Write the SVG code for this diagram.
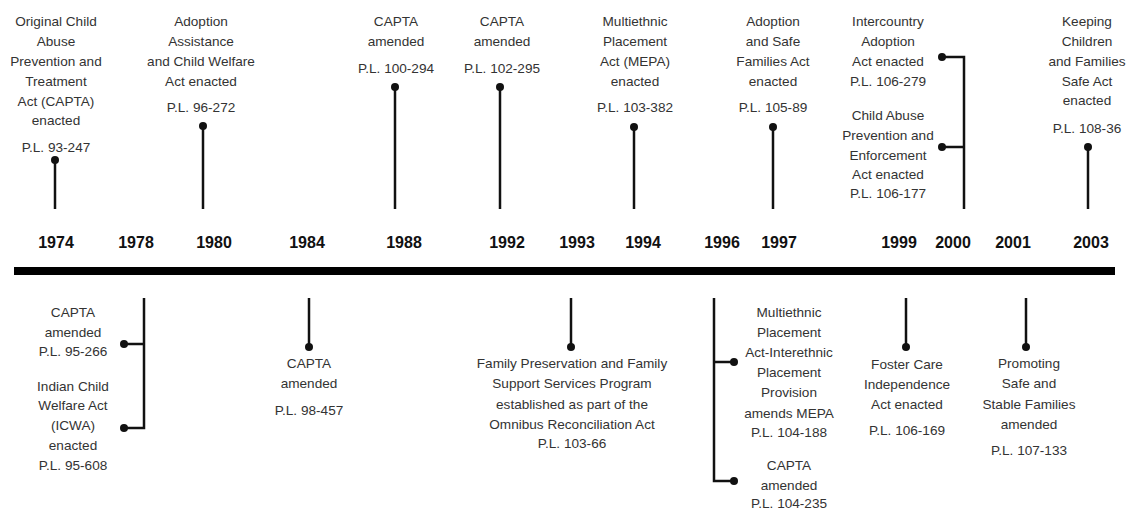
<svg xmlns="http://www.w3.org/2000/svg" width="1127" height="510" viewBox="0 0 1127 510">
<defs>
<style>
.t{font-family:"Liberation Sans",Arial,sans-serif;font-size:13.6px;fill:#333;text-anchor:middle}
.y{font-family:"Liberation Sans",Arial,sans-serif;font-size:16px;font-weight:bold;fill:#111;text-anchor:middle}
.s{stroke:#111;stroke-width:2.5;fill:none}
.d{fill:#111}
</style>
</defs>
<rect width="1127" height="510" fill="#fff"/>
<g id="axis">
<rect x="14" y="267" width="1101" height="8" fill="#000"/>
</g>
<g id="years">
<text class="y" x="56" y="248">1974</text>
<text class="y" x="136" y="248">1978</text>
<text class="y" x="214" y="248">1980</text>
<text class="y" x="307" y="248">1984</text>
<text class="y" x="404" y="248">1988</text>
<text class="y" x="507" y="248">1992</text>
<text class="y" x="577" y="248">1993</text>
<text class="y" x="643" y="248">1994</text>
<text class="y" x="722" y="248">1996</text>
<text class="y" x="779" y="248">1997</text>
<text class="y" x="899" y="248">1999</text>
<text class="y" x="953" y="248">2000</text>
<text class="y" x="1013" y="248">2001</text>
<text class="y" x="1091" y="248">2003</text>
</g>
<g id="connectors">
<path class="s" d="M55 160V209"/><circle class="d" cx="55" cy="160" r="4"/>
<path class="s" d="M203 126V209"/><circle class="d" cx="203" cy="126" r="4"/>
<path class="s" d="M395 87V209"/><circle class="d" cx="395" cy="87" r="4"/>
<path class="s" d="M500 87V209"/><circle class="d" cx="500" cy="87" r="4"/>
<path class="s" d="M634 127V209"/><circle class="d" cx="634" cy="127" r="4"/>
<path class="s" d="M773 127V209"/><circle class="d" cx="773" cy="127" r="4"/>
<path class="s" d="M942 57H964V209M942 147H964"/><circle class="d" cx="942" cy="57" r="4"/><circle class="d" cx="942" cy="147" r="4"/>
<path class="s" d="M1088 147V209"/><circle class="d" cx="1088" cy="147" r="4"/>
<path class="s" d="M144 298V428H124M124 344H144"/><circle class="d" cx="124" cy="344" r="4"/><circle class="d" cx="124" cy="428" r="4"/>
<path class="s" d="M309 298V347"/><circle class="d" cx="309" cy="347" r="4"/>
<path class="s" d="M571 298V347"/><circle class="d" cx="571" cy="347" r="4"/>
<path class="s" d="M714 298V481H734M714 362H734"/><circle class="d" cx="734" cy="362" r="4"/><circle class="d" cx="734" cy="481" r="4"/>
<path class="s" d="M906 298V347"/><circle class="d" cx="906" cy="347" r="4"/>
<path class="s" d="M1026 298V347"/><circle class="d" cx="1026" cy="347" r="4"/>
</g>
<g id="n1974">
<text class="t" x="56" y="26">Original Child</text>
<text class="t" x="56" y="46">Abuse</text>
<text class="t" x="56" y="66">Prevention and</text>
<text class="t" x="56" y="86">Treatment</text>
<text class="t" x="56" y="106">Act (CAPTA)</text>
<text class="t" x="56" y="125">enacted</text>
<text class="t" x="56" y="152">P.L. 93-247</text>
</g>
<g id="n1980">
<text class="t" x="201" y="26">Adoption</text>
<text class="t" x="201" y="46">Assistance</text>
<text class="t" x="201" y="66">and Child Welfare</text>
<text class="t" x="201" y="86">Act enacted</text>
<text class="t" x="201" y="112">P.L. 96-272</text>
</g>
<g id="n1988">
<text class="t" x="396" y="26">CAPTA</text>
<text class="t" x="396" y="46">amended</text>
<text class="t" x="396" y="73">P.L. 100-294</text>
</g>
<g id="n1992">
<text class="t" x="502" y="26">CAPTA</text>
<text class="t" x="502" y="46">amended</text>
<text class="t" x="502" y="73">P.L. 102-295</text>
</g>
<g id="n1994">
<text class="t" x="635" y="26">Multiethnic</text>
<text class="t" x="635" y="46">Placement</text>
<text class="t" x="635" y="66">Act (MEPA)</text>
<text class="t" x="635" y="86">enacted</text>
<text class="t" x="635" y="112">P.L. 103-382</text>
</g>
<g id="n1997">
<text class="t" x="773" y="26">Adoption</text>
<text class="t" x="773" y="46">and Safe</text>
<text class="t" x="773" y="66">Families Act</text>
<text class="t" x="773" y="86">enacted</text>
<text class="t" x="773" y="112">P.L. 105-89</text>
</g>
<g id="n2000a">
<text class="t" x="888" y="26">Intercountry</text>
<text class="t" x="888" y="46">Adoption</text>
<text class="t" x="888" y="66">Act enacted</text>
<text class="t" x="888" y="86">P.L. 106-279</text>
</g>
<g id="n2000b">
<text class="t" x="888" y="120">Child Abuse</text>
<text class="t" x="888" y="140">Prevention and</text>
<text class="t" x="888" y="160">Enforcement</text>
<text class="t" x="888" y="179">Act enacted</text>
<text class="t" x="888" y="198">P.L. 106-177</text>
</g>
<g id="n2003">
<text class="t" x="1087" y="26">Keeping</text>
<text class="t" x="1087" y="46">Children</text>
<text class="t" x="1087" y="66">and Families</text>
<text class="t" x="1087" y="86">Safe Act</text>
<text class="t" x="1087" y="105">enacted</text>
<text class="t" x="1087" y="133">P.L. 108-36</text>
</g>
<g id="n1978a">
<text class="t" x="73" y="317">CAPTA</text>
<text class="t" x="73" y="337">amended</text>
<text class="t" x="73" y="356">P.L. 95-266</text>
</g>
<g id="n1978b">
<text class="t" x="73" y="391">Indian Child</text>
<text class="t" x="73" y="410">Welfare Act</text>
<text class="t" x="73" y="430">(ICWA)</text>
<text class="t" x="73" y="450">enacted</text>
<text class="t" x="73" y="470">P.L. 95-608</text>
</g>
<g id="n1984">
<text class="t" x="309" y="368">CAPTA</text>
<text class="t" x="309" y="388">amended</text>
<text class="t" x="309" y="415">P.L. 98-457</text>
</g>
<g id="n1993">
<text class="t" x="572" y="368">Family Preservation and Family</text>
<text class="t" x="572" y="388">Support Services Program</text>
<text class="t" x="572" y="409">established as part of the</text>
<text class="t" x="572" y="429">Omnibus Reconciliation Act</text>
<text class="t" x="572" y="448">P.L. 103-66</text>
</g>
<g id="n1996a">
<text class="t" x="789" y="317">Multiethnic</text>
<text class="t" x="789" y="337">Placement</text>
<text class="t" x="789" y="357">Act-Interethnic</text>
<text class="t" x="789" y="377">Placement</text>
<text class="t" x="789" y="397">Provision</text>
<text class="t" x="789" y="418">amends MEPA</text>
<text class="t" x="789" y="437">P.L. 104-188</text>
</g>
<g id="n1996b">
<text class="t" x="789" y="470">CAPTA</text>
<text class="t" x="789" y="490">amended</text>
<text class="t" x="789" y="508">P.L. 104-235</text>
</g>
<g id="n1999">
<text class="t" x="907" y="369">Foster Care</text>
<text class="t" x="907" y="389">Independence</text>
<text class="t" x="907" y="409">Act enacted</text>
<text class="t" x="907" y="435">P.L. 106-169</text>
</g>
<g id="n2001">
<text class="t" x="1029" y="368">Promoting</text>
<text class="t" x="1029" y="388">Safe and</text>
<text class="t" x="1029" y="409">Stable Families</text>
<text class="t" x="1029" y="429">amended</text>
<text class="t" x="1029" y="455">P.L. 107-133</text>
</g>
</svg>
